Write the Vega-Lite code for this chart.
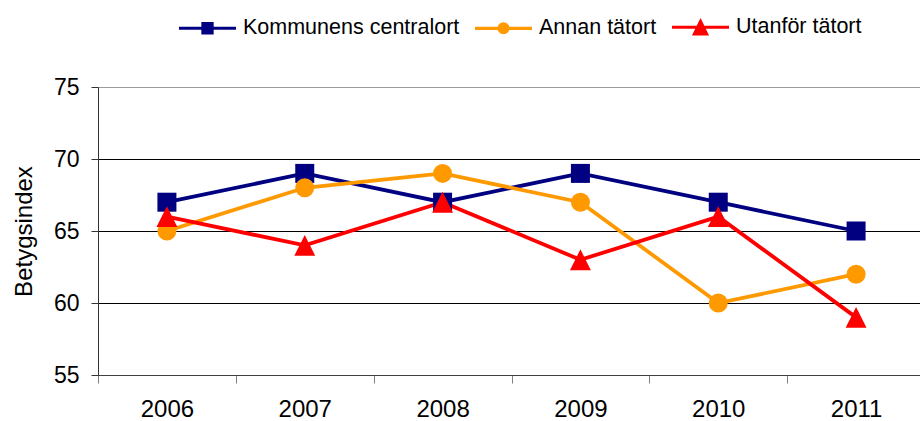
{
  "$schema": "https://vega.github.io/schema/vega-lite/v6.json",
  "width": 827,
  "height": 288,
  "autosize": {"type": "none"},
  "padding": {"left": 98, "top": 87, "right": 0, "bottom": 46},
  "background": "white",
  "config": {"view": {"stroke": null}, "font": "Liberation Sans"},
  "data": {
    "values": [
      {"series": "Kommunens centralort", "year": "2006", "value": 67},
      {"series": "Kommunens centralort", "year": "2007", "value": 69},
      {"series": "Kommunens centralort", "year": "2008", "value": 67},
      {"series": "Kommunens centralort", "year": "2009", "value": 69},
      {"series": "Kommunens centralort", "year": "2010", "value": 67},
      {"series": "Kommunens centralort", "year": "2011", "value": 65},
      {"series": "Annan tätort", "year": "2006", "value": 65},
      {"series": "Annan tätort", "year": "2007", "value": 68},
      {"series": "Annan tätort", "year": "2008", "value": 69},
      {"series": "Annan tätort", "year": "2009", "value": 67},
      {"series": "Annan tätort", "year": "2010", "value": 60},
      {"series": "Annan tätort", "year": "2011", "value": 62},
      {"series": "Utanför tätort", "year": "2006", "value": 66},
      {"series": "Utanför tätort", "year": "2007", "value": 64},
      {"series": "Utanför tätort", "year": "2008", "value": 67},
      {"series": "Utanför tätort", "year": "2009", "value": 63},
      {"series": "Utanför tätort", "year": "2010", "value": 66},
      {"series": "Utanför tätort", "year": "2011", "value": 59}
    ]
  },
  "encoding": {
    "x": {
      "field": "year",
      "type": "ordinal",
      "sort": null,
      "scale": {"type": "band", "paddingInner": 0, "paddingOuter": 0},
      "axis": {
        "title": null,
        "grid": false,
        "labelAngle": 0,
        "tickBand": "extent",
        "tickSize": 8,
        "tickColor": "#808080",
        "domainColor": "#404040",
        "labelFontSize": 24,
        "labelPadding": 14,
        "labelColor": "black"
      }
    },
    "y": {
      "field": "value",
      "type": "quantitative",
      "scale": {"domain": [55, 75], "nice": false, "zero": false},
      "axis": {
        "values": [55, 60, 65, 70, 75],
        "title": "Betygsindex",
        "titleFontSize": 24,
        "titleFontWeight": "normal",
        "titleColor": "black",
        "titlePadding": 17,
        "tickSize": 7,
        "tickColor": "#333333",
        "domainColor": "#333333",
        "gridColor": {"condition": {"test": "datum.value === 75", "value": "#9a9a9a"}, "value": "#000000"},
        "gridOpacity": 1,
        "labelFontSize": 23,
        "labelPadding": 12,
        "labelColor": "black",
        "labelFlush": false
      }
    },
    "color": {
      "field": "series",
      "type": "nominal",
      "scale": {
        "domain": ["Kommunens centralort", "Annan tätort", "Utanför tätort"],
        "range": ["#000080", "#FF9900", "#FF0000"]
      },
      "legend": {
        "orient": "none",
        "legendX": 79,
        "legendY": -90.5,
        "direction": "horizontal",
        "title": null,
        "padding": 0,
        "labelFontSize": 21.5,
        "labelLimit": 0,
        "labelColor": "black",
        "labelOffset": 5,
        "columnPadding": 8,
        "symbolSize": 3249,
        "symbolStrokeWidth": 3,
        "encode": {
          "symbols": {
            "update": {
              "shape": {"signal": "datum.value === 'Kommunens centralort' ? 'M-1,0H1M-0.16,-0.16H0.16V0.16H-0.16Z' : datum.value === 'Annan tätort' ? 'M-1,0H1M-0.155,0A0.155,0.155 0 1,1 0.155,0A0.155,0.155 0 1,1 -0.155,0Z' : 'M-1,0H1M0,-0.2L0.21,0.23H-0.21Z'"},
              "fill": {"signal": "scale('color', datum.value)"},
              "stroke": {"signal": "scale('color', datum.value)"},
              "strokeWidth": {"value": 3.2},
              "opacity": {"value": 1}
            }
          }
        }
      }
    }
  },
  "layer": [
    {
      "mark": {"type": "line", "strokeWidth": 3.8}
    },
    {
      "transform": [{"filter": "datum.series === 'Kommunens centralort'"}],
      "mark": {"type": "point", "filled": true, "opacity": 1, "size": 361, "shape": "square"}
    },
    {
      "transform": [{"filter": "datum.series === 'Annan tätort'"}],
      "mark": {"type": "point", "filled": true, "opacity": 1, "size": 361, "shape": "circle"}
    },
    {
      "transform": [{"filter": "datum.series === 'Utanför tätort'"}],
      "mark": {"type": "point", "filled": true, "opacity": 1, "size": 361, "shape": "M0,-1.1L1.1,1.1L-1.1,1.1Z"}
    }
  ]
}
